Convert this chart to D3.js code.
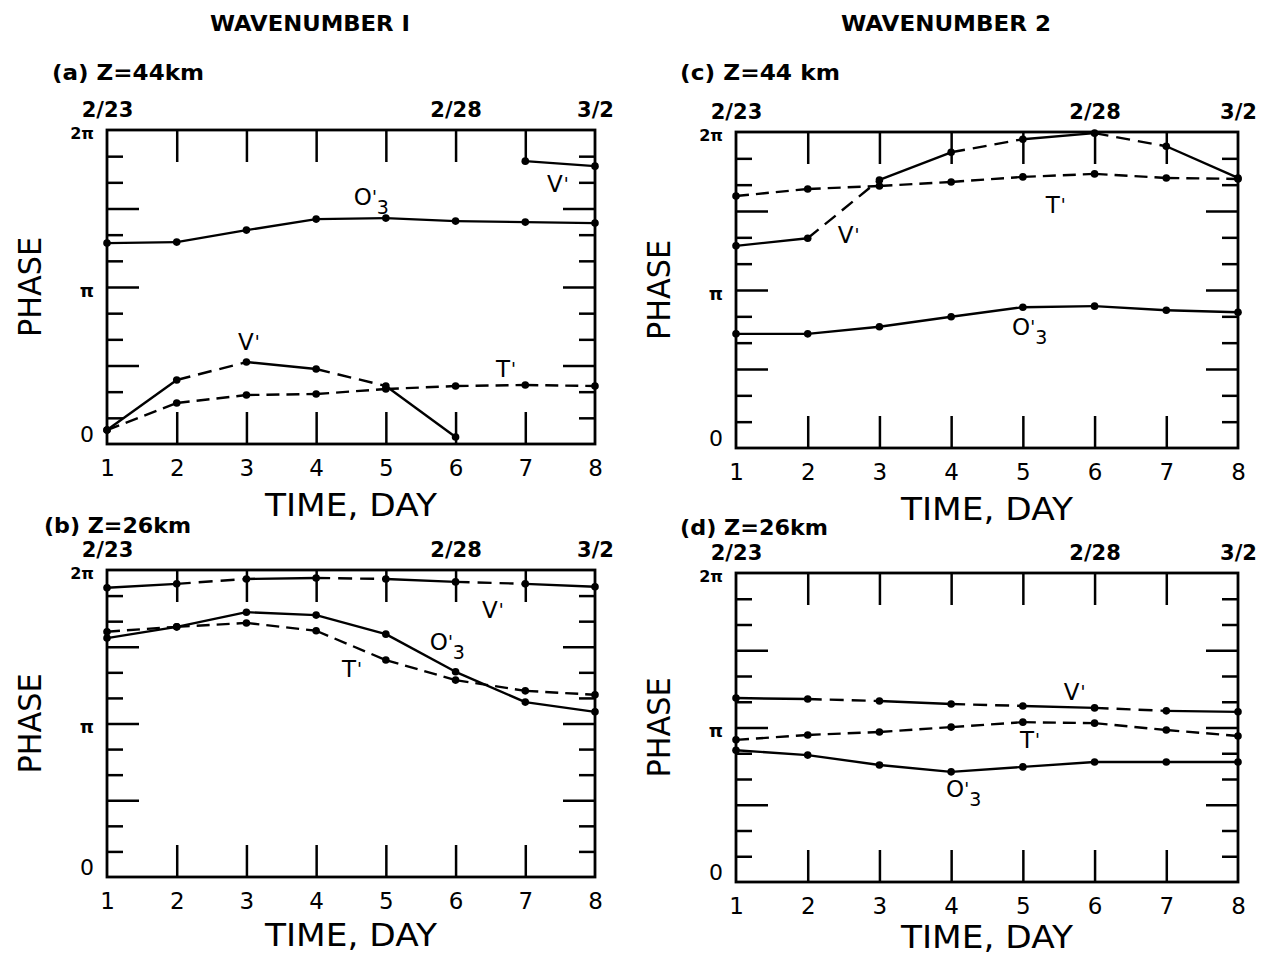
<!DOCTYPE html>
<html><head><meta charset="utf-8">
<script src="https://cdn.jsdelivr.net/npm/d3@7"></script>
<style>body{margin:0;background:#fff} svg{display:block;background:#fff}</style>
</head><body>
<svg id="chart" width="1264" height="959"></svg>
<script>
// ---------- data ----------
const days = [1, 2, 3, 4, 5, 6, 7, 8];
const innerDayTicks = [2, 3, 4, 5, 6, 7];
const dateLabels = ["2/23", "2/28", "3/2"];
const dateLabelDays = [1, 6, 8];
const phaseTickLabels = ["0", "π", "2π"];
const phaseTickValues = [0, Math.PI, 2 * Math.PI];
const columnTitles = ["WAVENUMBER I", "WAVENUMBER 2"];
const panelTitles = ["(a) Z=44km", "(b) Z=26km", "(c) Z=44 km", "(d) Z=26km"];
const xTitle = "TIME, DAY";
const yTitle = "PHASE";

// phases in radians
const aO3 = [4.02, 4.04, 4.28, 4.50, 4.52, 4.46, 4.44, 4.42];
const aV  = [0.28, 1.28, 1.64, 1.50, 1.16, 0.14, 5.66, 5.56];
const aT  = [0.28, 0.82, 0.98, 1.00, 1.10, 1.16, 1.18, 1.16];

const bV  = [5.92, 6.00, 6.10, 6.12, 6.10, 6.04, 6.00, 5.94];
const bO3 = [4.89, 5.12, 5.42, 5.36, 4.97, 4.20, 3.58, 3.38];
const bT  = [5.02, 5.12, 5.20, 5.04, 4.44, 4.03, 3.81, 3.73];

const cV  = [4.02, 4.17, 5.33, 5.88, 6.14, 6.26, 6.00, 5.37];
const cT  = [5.01, 5.15, 5.21, 5.29, 5.39, 5.45, 5.37, 5.35];
const cO3 = [2.27, 2.27, 2.41, 2.61, 2.80, 2.82, 2.74, 2.70];

const dV  = [3.74, 3.72, 3.68, 3.62, 3.58, 3.54, 3.48, 3.46];
const dT  = [2.89, 2.99, 3.05, 3.15, 3.25, 3.23, 3.09, 2.97];
const dO3 = [2.68, 2.58, 2.38, 2.24, 2.34, 2.44, 2.44, 2.44];

// series-label anchors (day, phase)
const aLabels = [["O3", 4.54, 4.78], ["V", 7.31, 5.04], ["V", 2.88, 1.88], ["T", 6.58, 1.34]];
const bLabels = [["V", 6.38, 5.30], ["O3", 5.63, 4.65], ["T", 4.37, 4.09]];
const cLabels = [["V", 2.42, 4.08], ["T", 5.32, 4.67], ["O3", 4.85, 2.25]];
const dLabels = [["V", 5.57, 3.70], ["T", 4.96, 2.72], ["O3", 3.93, 1.73]];

// ---------- layout ----------
const svg = d3.select("#chart");
const FONT = "'DejaVu Sans', 'Liberation Sans', sans-serif";
const panels = [
  {title: panelTitles[0], left: 107, right: 595, top: 130, bottom: 444, tx: 52, ty: 80, tw: 152, xt: 72,
   series: [[aO3, "solid"], [aV, "alt"], [aT, "dash"]], labels: aLabels},
  {title: panelTitles[1], left: 107, right: 595, top: 570, bottom: 877, tx: 44, ty: 533, tw: 147, xt: 69,
   series: [[bV, "alt"], [bO3, "solid"], [bT, "dash"]], labels: bLabels},
  {title: panelTitles[2], left: 736, right: 1238, top: 132, bottom: 448, tx: 680, ty: 80, tw: 160, xt: 72,
   series: [[cV, "alt"], [cT, "dash"], [cO3, "solid"]], labels: cLabels},
  {title: panelTitles[3], left: 736, right: 1238, top: 573, bottom: 882, tx: 680, ty: 535, tw: 148, xt: 66,
   series: [[dV, "alt"], [dT, "dash"], [dO3, "solid"]], labels: dLabels}
];

// column titles
svg.append("text").attr("x", 310).attr("y", 31).attr("text-anchor", "middle")
  .attr("font-family", FONT).attr("font-size", 21).attr("font-weight", 600)
  .attr("textLength", 200).attr("lengthAdjust", "spacingAndGlyphs").text(columnTitles[0]);
svg.append("text").attr("x", 946).attr("y", 31).attr("text-anchor", "middle")
  .attr("font-family", FONT).attr("font-size", 21).attr("font-weight", 600)
  .attr("textLength", 210).attr("lengthAdjust", "spacingAndGlyphs").text(columnTitles[1]);

function styleAxis(sel, sw) {
  sel.select(".domain").remove();
  sel.selectAll(".tick line").attr("stroke", "#000").attr("stroke-width", sw);
}

panels.forEach(p => {
  const x = d3.scaleLinear().domain([1, 8]).range([p.left, p.right]);
  const y = d3.scaleLinear().domain([0, 2 * Math.PI]).range([p.bottom, p.top]);
  const g = svg.append("g");

  // panel title
  g.append("text").attr("x", p.tx).attr("y", p.ty)
    .attr("font-family", FONT).attr("font-size", 21).attr("font-weight", 600)
    .attr("textLength", p.tw).attr("lengthAdjust", "spacingAndGlyphs").text(p.title);

  const minor = d3.range(1, 12).filter(k => k % 3 !== 0).map(k => k * Math.PI / 6);
  const major = [1, 2, 3].map(k => k * Math.PI / 2);

  // left / right inward ticks
  g.append("g").attr("transform", `translate(${p.left},0)`)
    .call(d3.axisLeft(y).tickValues(minor).tickSize(-16).tickFormat(""))
    .call(s => styleAxis(s, 2.5));
  g.append("g").attr("transform", `translate(${p.left},0)`)
    .call(d3.axisLeft(y).tickValues(major).tickSize(-32).tickFormat(""))
    .call(s => styleAxis(s, 2.5));
  g.append("g").attr("transform", `translate(${p.right},0)`)
    .call(d3.axisRight(y).tickValues(minor).tickSize(-16).tickFormat(""))
    .call(s => styleAxis(s, 2.5));
  g.append("g").attr("transform", `translate(${p.right},0)`)
    .call(d3.axisRight(y).tickValues(major).tickSize(-32).tickFormat(""))
    .call(s => styleAxis(s, 2.5));
  // top / bottom inward ticks
  g.append("g").attr("transform", `translate(0,${p.top})`)
    .call(d3.axisTop(x).tickValues(innerDayTicks).tickSize(-32).tickFormat(""))
    .call(s => styleAxis(s, 2.5));
  g.append("g").attr("transform", `translate(0,${p.bottom})`)
    .call(d3.axisBottom(x).tickValues(innerDayTicks).tickSize(-32).tickFormat(""))
    .call(s => styleAxis(s, 2.5));

  // frame
  g.append("rect").attr("x", p.left).attr("y", p.top)
    .attr("width", p.right - p.left).attr("height", p.bottom - p.top)
    .attr("fill", "none").attr("stroke", "#000").attr("stroke-width", 2.8);

  // day labels
  const bl = g.append("g").attr("transform", `translate(0,${p.bottom})`)
    .call(d3.axisBottom(x).tickValues(days).tickSize(0).tickPadding(16).tickFormat(d3.format("d")));
  bl.select(".domain").remove();
  bl.selectAll("text").attr("font-family", FONT).attr("font-size", 23).attr("fill", "#000");

  // date labels on top
  const tl = g.append("g").attr("transform", `translate(0,${p.top})`)
    .call(d3.axisTop(x).tickValues(dateLabelDays).tickSize(0).tickPadding(13)
      .tickFormat((d, i) => dateLabels[i]));
  tl.select(".domain").remove();
  tl.selectAll("text").attr("font-family", FONT).attr("font-size", 21).attr("font-weight", 600).attr("fill", "#000");

  // phase labels
  const ll = g.append("g").attr("transform", `translate(${p.left},0)`)
    .call(d3.axisLeft(y).tickValues(phaseTickValues).tickSize(0).tickPadding(13)
      .tickFormat((d, i) => phaseTickLabels[i]));
  ll.select(".domain").remove();
  ll.selectAll("text").attr("font-family", FONT).attr("fill", "#000")
    .attr("font-size", (d, i) => i === 0 ? 22 : (i === 2 ? 16 : 18))
    .attr("font-weight", (d, i) => i === 0 ? "normal" : "bold")
    .attr("dy", (d, i) => i === 0 ? "-0.12em" : "0.5em");

  // axis titles
  g.append("text").attr("x", (p.left + p.right) / 2).attr("y", p.bottom + p.xt)
    .attr("text-anchor", "middle").attr("font-family", FONT).attr("font-size", 32)
    .attr("textLength", 172).attr("lengthAdjust", "spacingAndGlyphs").text(xTitle);
  g.append("text")
    .attr("transform", `translate(${p.left - 66},${y(Math.PI)}) rotate(-90)`)
    .attr("text-anchor", "middle").attr("font-family", FONT).attr("font-size", 32)
    .attr("textLength", 100).attr("lengthAdjust", "spacingAndGlyphs").text(yTitle);

  // series
  const line = d3.line().x(d => x(d[0])).y(d => y(d[1]));
  p.series.forEach(([vals, style]) => {
    const pts = days.map((d, i) => [d, vals[i]]);
    // split where phase wraps around
    const segs = [];
    for (let i = 0; i < pts.length - 1; i++) {
      if (Math.abs(pts[i + 1][1] - pts[i][1]) < Math.PI) segs.push([i, [pts[i], pts[i + 1]]]);
    }
    segs.forEach(([i, s]) => {
      let dash = null;
      if (style === "dash") dash = "13 7";
      if (style === "alt" && i % 2 === 1) dash = "14 8";
      g.append("path").attr("d", line(s)).attr("fill", "none").attr("stroke", "#000")
        .attr("stroke-width", 2.4).attr("stroke-dasharray", dash);
    });
    g.selectAll(null).data(pts).enter().append("circle")
      .attr("cx", d => x(d[0])).attr("cy", d => y(d[1])).attr("r", 3.8).attr("fill", "#000");
  });

  // series labels
  p.labels.forEach(([name, dd, ph]) => {
    const t = g.append("text").attr("x", x(dd)).attr("y", y(ph))
      .attr("font-family", FONT).attr("font-size", 23).attr("fill", "#000");
    if (name === "O3") {
      t.append("tspan").text("O");
      t.append("tspan").attr("dy", -2).attr("font-size", 18).text("'");
      t.append("tspan").attr("dx", 0).attr("dy", 11).attr("font-size", 19).text("3");
    } else {
      t.append("tspan").text(name);
      t.append("tspan").attr("dx", 1).attr("dy", -2).attr("font-size", 18).text("'");
    }
  });
});
</script>
</body></html>
